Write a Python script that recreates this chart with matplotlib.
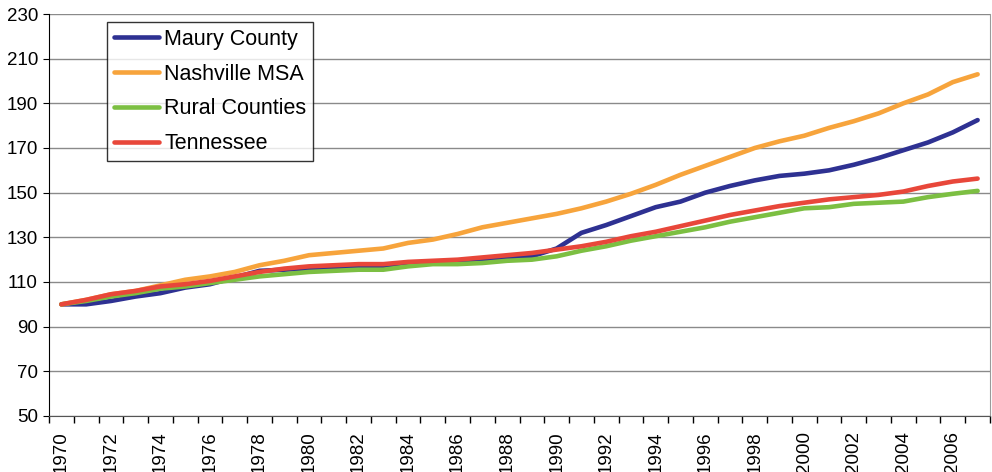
import matplotlib
matplotlib.use("Agg")
import matplotlib.pyplot as plt
import numpy as np

years = list(range(1970, 2008))
maury = [100, 100, 101.5, 103.5, 105, 107.5, 109, 112, 115, 115.5, 116, 116, 116.5, 117, 118, 119, 119.5, 120, 120.5, 121.5,
         125, 132, 135.5, 139.5, 143.5, 146, 150, 153, 155.5, 157.5, 158.5, 160, 162.5, 165.5, 169, 172.5, 177, 182.5]
nashville = [100, 102, 104.5, 106, 108.5, 111, 112.5, 114.5, 117.5, 119.5, 122, 123, 124, 125, 127.5, 129, 131.5, 134.5, 136.5, 138.5,
             140.5, 143, 146, 149.5, 153.5, 158, 162, 166, 170, 173, 175.5, 179, 182, 185.5, 190, 194, 199.5, 203]
rural = [100, 101.5, 103.5, 105, 107, 108, 109.5, 111, 112.5, 113.5, 114.5, 115, 115.5, 115.5, 117, 118, 118, 118.5, 119.5, 120,
         121.5, 124, 126, 128.5, 130.5, 132.5, 134.5, 137, 139, 141, 143, 143.5, 145, 145.5, 146, 148, 149.5, 150.8]
tennessee = [100, 102, 104.5, 106, 108, 109, 110.5, 112.5, 114.5, 116, 117, 117.5, 118, 118, 119, 119.5, 120, 121, 122, 123,
             124.5, 126, 128, 130.5, 132.5, 135, 137.5, 140, 142, 144, 145.5, 147, 148, 149, 150.5, 153, 155, 156.3]
series_names = ["Maury County", "Nashville MSA", "Rural Counties", "Tennessee"]
y_ticks = list(range(50, 231, 20))

plt.rcParams['font.family'] = ['Liberation Sans', 'DejaVu Sans']

fig = plt.figure(figsize=(9.92, 4.72), dpi=100)
ax = fig.add_axes([49/992, 1-416/472, (990-49)/992, (416-14)/472])

colors = ["#2E3192", "#F7A43C", "#7CBF42", "#E8473A"]
x = np.arange(len(years))
for vals, name, c in zip([maury, nashville, rural, tennessee], series_names, colors):
    ax.plot(x, vals, color=c, lw=3.3, label=name, solid_capstyle='round', solid_joinstyle='round')

ax.set_xlim(-0.5, len(years) - 0.5)
ax.set_ylim(50, 230)
ax.set_yticks(y_ticks)
ax.yaxis.grid(True, color="#8a8a8a", lw=1)
ax.set_axisbelow(True)

ax.set_xticks(x[::2])
ax.set_xticklabels([str(y) for y in years[::2]], rotation=90)
ax.set_xticks(np.arange(len(years) + 1) - 0.5, minor=True)
ax.tick_params(axis='x', which='major', length=0, labelsize=13.5, pad=11)
ax.tick_params(axis='x', which='minor', length=5, width=1, direction='out')
ax.tick_params(axis='y', length=4, labelsize=13.5, pad=4)

ax.spines['top'].set_visible(False)
ax.spines['right'].set_color("#9a9a9a")
ax.spines['left'].set_color("black")
ax.spines['bottom'].set_color("#555555")

leg = ax.legend(loc='upper left', bbox_to_anchor=(58/941, 1 - 8/402), frameon=True,
                fancybox=False, edgecolor='black', fontsize=15.5, handlelength=2.1, handletextpad=0.25,
                borderpad=0.32, labelspacing=0.64, borderaxespad=0)
leg.get_frame().set_linewidth(1)

fig.savefig("out.png", dpi=100)
